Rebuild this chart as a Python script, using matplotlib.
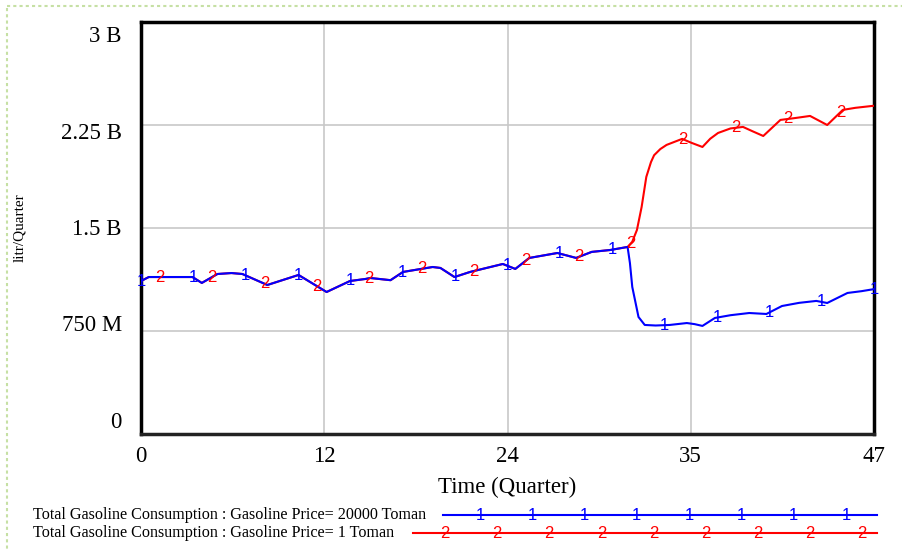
import numpy as np
import matplotlib.pyplot as plt

# time (quarter) and consumption (billion litr/Quarter)
t_common = [0.0, 0.5, 3.3, 3.9, 4.9, 5.8, 6.5, 8.1, 10.1, 11.9, 13.4, 14.4, 14.7,
            16.0, 16.8, 18.7, 19.2, 20.1, 21.1, 23.2, 24.0, 24.9, 26.7, 27.9,
            28.9, 30.1, 31.2]
v_common = [1.114, 1.143, 1.143, 1.10, 1.165, 1.172, 1.165, 1.085, 1.158, 1.034,
            1.114, 1.129, 1.136, 1.12, 1.18, 1.216, 1.209, 1.143, 1.18, 1.238,
            1.202, 1.282, 1.318, 1.282, 1.326, 1.34, 1.362]

t_price_high = [31.35, 31.5, 31.9, 32.3, 33.0, 33.9, 35.0, 35.5, 36.0, 36.8, 37.8,
                39.0, 40.1, 41.1, 42.2, 43.3, 44.0, 45.3, 46.2, 47.0]
v_price_high = [1.245, 1.071, 0.852, 0.794, 0.79, 0.794, 0.808, 0.80, 0.787, 0.845,
                0.865, 0.881, 0.874, 0.932, 0.955, 0.969, 0.954, 1.027, 1.04, 1.055]

t_price_low = [31.5, 31.8, 32.1, 32.4, 32.7, 32.9, 33.3, 33.7, 34.7, 35.3, 36.0,
               36.5, 37.0, 37.8, 38.6, 39.2, 39.9, 41.0, 41.9, 42.9, 44.0, 45.0,
               45.8, 46.9, 47.0]
v_price_low = [1.40, 1.486, 1.653, 1.872, 1.98, 2.03, 2.075, 2.105, 2.149, 2.12,
               2.09, 2.15, 2.192, 2.225, 2.236, 2.205, 2.17, 2.287, 2.30, 2.316,
               2.25, 2.36, 2.375, 2.389, 2.39]

y_ticks = [3.0, 2.25, 1.5, 0.75, 0.0]
y_labels = ['3 B', '2.25 B', '1.5 B', '750 M', '0']
x_grid = [0, 11.75, 23.5, 35.25, 47]
x_labels = ['0', '12', '24', '35', '47']

legend_1 = 'Total Gasoline Consumption : Gasoline Price= 20000 Toman'
legend_2 = 'Total Gasoline Consumption : Gasoline Price= 1 Toman'

t1 = np.array(t_common + t_price_high)
v1 = np.array(v_common + v_price_high)
t2 = np.array(t_common + t_price_low)
v2 = np.array(v_common + v_price_low)

serif = 'Liberation Serif'
sans = 'Liberation Sans'

fig = plt.figure(figsize=(9.02, 5.5), dpi=100)

# background layer in pixel coords (frame + legend)
bg = fig.add_axes([0, 0, 1, 1])
bg.set_xlim(0, 902)
bg.set_ylim(550, 0)
bg.axis('off')
bg.plot([7, 7], [8, 550], ls=(0, (1.5, 1.5)), color='#c6e0a4', lw=1.5)
bg.plot([7, 902], [6, 6], ls=(0, (1.5, 1.5)), color='#c6e0a4', lw=1.5)

ax = fig.add_axes([141/902, 1-434/550, 733/902, 412/550])
ax.plot(t2, v2, color='#ff0000', lw=1.5, zorder=3)
ax.plot(t1, v1, color='#0000ff', lw=1.5, zorder=4)

# numbered markers along the lines
m1 = np.linspace(0, 47, 15)
m2 = m1[:-1] + 1.2
for tm in m1:
    ax.text(tm, np.interp(tm, t1, v1), '1', color='#0000ff', fontsize=12,
            family=sans, ha='center', va='center', zorder=5)
for tm in m2:
    ax.text(tm, np.interp(tm, t2, v2), '2', color='#ff0000', fontsize=12,
            family=sans, ha='center', va='center', zorder=5)

ax.set_xlim(0, 47)
ax.set_ylim(0, 3)
for g in x_grid[1:-1]:
    ax.axvline(g, color='#c8c8c8', lw=1.2, zorder=1)
for g in y_ticks[1:-1]:
    ax.axhline(g, color='#c8c8c8', lw=1.2, zorder=1)

ax.set_xticks(x_grid, x_labels, family=serif, fontsize=16.5)
ax.tick_params(axis='x', length=0, pad=9)
ax.set_yticks([])
label_pos = np.linspace(0.087, 2.891, 5)[::-1]
for p, lab in zip(label_pos, y_labels):
    ax.text(-0.026, p, lab, transform=ax.get_yaxis_transform(), ha='right',
            va='center', family=serif, fontsize=16.5)

for s in ax.spines.values():
    s.set_linewidth(2.5)
    s.set_color('black')
ax.spines['bottom'].set_color('#222222')

fig.text(507/902, 1-487/550, 'Time (Quarter)', ha='center', va='center',
         family=serif, fontsize=16.5)
fig.text(20/902, 1-228/550, 'litr/Quarter', rotation=90, ha='center',
         va='center', family=serif, fontsize=11)

# legend
fig.text(33/902, 1-515/550, legend_1, ha='left', va='center', family=serif, fontsize=11.6)
fig.text(33/902, 1-533/550, legend_2, ha='left', va='center', family=serif, fontsize=11.6)
bg.plot([443, 877], [515, 515], color='#0000ff', lw=1.5)
bg.plot([413, 877], [533, 533], color='#ff0000', lw=1.5)
for xm in np.linspace(480, 846, 8):
    bg.text(xm, 515, '1', color='#0000ff', fontsize=12, family=sans,
            ha='center', va='center')
for xm in np.linspace(445, 862, 9):
    bg.text(xm, 533, '2', color='#ff0000', fontsize=12, family=sans,
            ha='center', va='center')

fig.savefig('out.png', dpi=100)
